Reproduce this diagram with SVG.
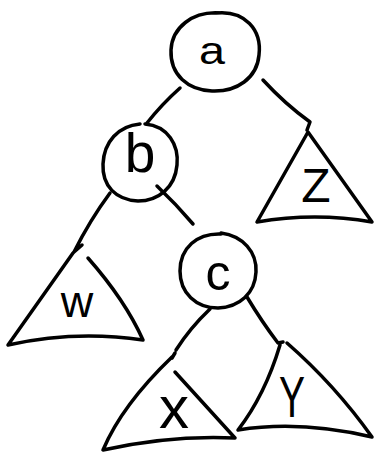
<svg xmlns="http://www.w3.org/2000/svg" width="376" height="457" viewBox="0 0 376 457">
<style>
.s{fill:none;stroke:#000;stroke-width:3.5;stroke-linecap:round;stroke-linejoin:round}
.t{font-family:"Liberation Sans",Arial,sans-serif;fill:#000;text-anchor:middle}
</style>
<rect width="376" height="457" fill="#fff"/>
<g id="connectors">
<path class="s" d="M180,88 Q162,104 147,123"/>
<path class="s" d="M263,80 Q285,104 310,122 L307,130"/>
<path class="s" d="M157,186 Q176,204 193,224"/>
<path class="s" d="M110,193 Q90,220 74,252 M82,245 L74,252"/>
<path class="s" d="M210,309 Q190,328 176,350 M175,353 L172,358"/>
<path class="s" d="M247,297 Q262,322 278,343 L283,342"/>
</g>
<g id="node-a">
<path class="s" d="M216,13 C245,10 262,30 259,55 C257,78 237,92 212,91 C188,90 170,75 171,50 C172,28 192,11 220,13"/>
<text class="t" x="212" y="64" font-size="38" textLength="26" lengthAdjust="spacingAndGlyphs">a</text>
</g>
<g id="node-b">
<path class="s" d="M145,124 C168,126 179,145 177,165 C175,188 158,201 138,201 C116,200 102,186 103,164 C104,142 118,126 140,124"/>
<text class="t" x="140" y="172" font-size="55">b</text>
</g>
<g id="node-z">
<path class="s" d="M308,132 L257,222 Q315,212 372,222 Z"/>
<text class="t" x="316" y="202" font-size="48">Z</text>
</g>
<g id="node-c">
<path class="s" d="M221,233 C243,236 257,252 256,272 C255,293 240,307 218,308 C196,308 180,293 180,271 C180,248 197,233 221,234"/>
<text class="t" x="218" y="290" font-size="50">c</text>
</g>
<g id="node-w">
<path class="s" d="M73,253 L8,345 Q75,330 143,340 Q125,300 88,258"/>
<text class="t" x="77" y="317" font-size="45">w</text>
</g>
<g id="node-x">
<path class="s" d="M172,357 Q122,405 103,450 Q170,435 235,438 L175,372"/>
<text class="t" x="174" y="428" font-size="60">x</text>
</g>
<g id="node-y">
<path class="s" d="M280,345 Q265,395 238,430 Q300,420 372,437 Q335,385 287,343"/>
<text class="t" x="292" y="417" font-size="58" textLength="26" lengthAdjust="spacingAndGlyphs">Y</text>
</g>
</svg>
